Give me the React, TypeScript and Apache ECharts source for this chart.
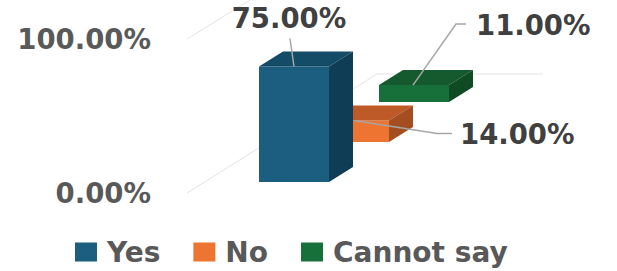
import React, { useEffect, useRef } from "react";
import * as echarts from "echarts";

const categories = ["Response"];
const seriesNames = ["Yes", "No", "Cannot say"];
const seriesValues = [0.75, 0.14, 0.11];
const axisTicks = [0, 1];

const frontColors = ["#1b5e80", "#ed7531", "#17703a"];
const topColors = ["#144b67", "#bd5a28", "#145a2e"];
const sideColors = ["#0f3d56", "#a44d20", "#0f4a24"];

const FONT = "DejaVu Sans";
const BW = 70;
const DX = 24;
const DY = -15;

// label leader offsets (relative to bar front-left x and top y)
const labelStyles = [
  { pts: [[35, 0], [31, -28]], tx: 30, ty: -49, align: "center" },
  { pts: [[35, 0], [118, 13], [133, 13]], tx: 141, ty: 14, align: "left" },
  { pts: [[34, 0], [77, -61], [87, -61]], tx: 97, ty: -60, align: "left" },
];

function fmt(v: number) {
  return (v * 100).toFixed(2) + "%";
}

export default function App() {
  const ref = useRef<HTMLDivElement>(null);
  useEffect(() => {
    if (!ref.current) return;
    const chart = echarts.init(ref.current, undefined, { renderer: "svg" });
    const series = seriesNames.map((name, i) => ({
      type: "custom",
      name,
      clip: false,
      z: 10 - i,
      itemStyle: { color: frontColors[i] },
      data: [[0, seriesValues[i]]],
      renderItem: (params: any, api: any) => {
        const v = api.value(1);
        const base = api.coord([0, 0]);
        const top = api.coord([0, v]);
        const h = base[1] - top[1];
        const x = base[0] - BW / 2 + 60 * i;
        const yb = base[1] - 11 - 40 * i;
        const yt = yb - h;
        const ls = labelStyles[i];
        return {
          type: "group",
          children: [
            {
              type: "rect",
              shape: { x, y: yt, width: BW, height: h },
              style: { fill: frontColors[i] },
            },
            {
              type: "polygon",
              shape: {
                points: [
                  [x, yt],
                  [x + DX, yt + DY],
                  [x + BW + DX, yt + DY],
                  [x + BW, yt],
                ],
              },
              style: { fill: topColors[i] },
            },
            {
              type: "polygon",
              shape: {
                points: [
                  [x + BW, yt],
                  [x + BW + DX, yt + DY],
                  [x + BW + DX, yb + DY],
                  [x + BW, yb],
                ],
              },
              style: { fill: sideColors[i] },
            },
            {
              type: "polyline",
              shape: { points: ls.pts.map((p) => [x + p[0], yt + p[1]]) },
              style: { stroke: "#a6a6a6", lineWidth: 1.5, fill: null },
            },
            {
              type: "text",
              style: {
                text: fmt(v),
                x: x + ls.tx,
                y: yt + ls.ty,
                align: ls.align,
                verticalAlign: "middle",
                fill: "#404040",
                fontSize: 27.5,
                fontWeight: "bold",
                fontFamily: FONT,
              },
            },
          ],
        };
      },
    }));

    chart.setOption({
      animation: false,
      backgroundColor: "#ffffff",
      grid: { left: 187, width: 214, top: 39, bottom: 78 },
      xAxis: { type: "category", data: categories, show: false },
      yAxis: {
        type: "value",
        min: axisTicks[0],
        max: axisTicks[1],
        interval: 1,
        axisLine: { show: false },
        axisTick: { show: false },
        splitLine: { show: false },
        axisLabel: {
          margin: 36,
          formatter: (v: number) => fmt(v),
          color: "#595959",
          fontSize: 27.5,
          fontWeight: "bold",
          fontFamily: FONT,
        },
      },
      legend: {
        data: seriesNames,
        left: 70,
        top: 233,
        icon: "rect",
        itemWidth: 22,
        itemHeight: 19,
        itemGap: 33,
        textStyle: {
          color: "#595959",
          fontSize: 28,
          fontWeight: "bold",
          fontFamily: FONT,
          padding: [0, 0, 0, 5],
        },
      },
      graphic: [
        {
          type: "polyline",
          z: 0,
          shape: { points: [[187, 193], [377, 74], [543, 74]] },
          style: { stroke: "#e3e3e3", lineWidth: 1, fill: null },
        },
        {
          type: "line",
          z: 0,
          shape: { x1: 187, y1: 39, x2: 250, y2: 0 },
          style: { stroke: "#e3e3e3", lineWidth: 1 },
        },
      ],
      series,
    });
    return () => chart.dispose();
  }, []);
  return (
    <div
      ref={ref}
      style={{ position: "fixed", left: 0, top: 0, width: 617, height: 271 }}
    />
  );
}
